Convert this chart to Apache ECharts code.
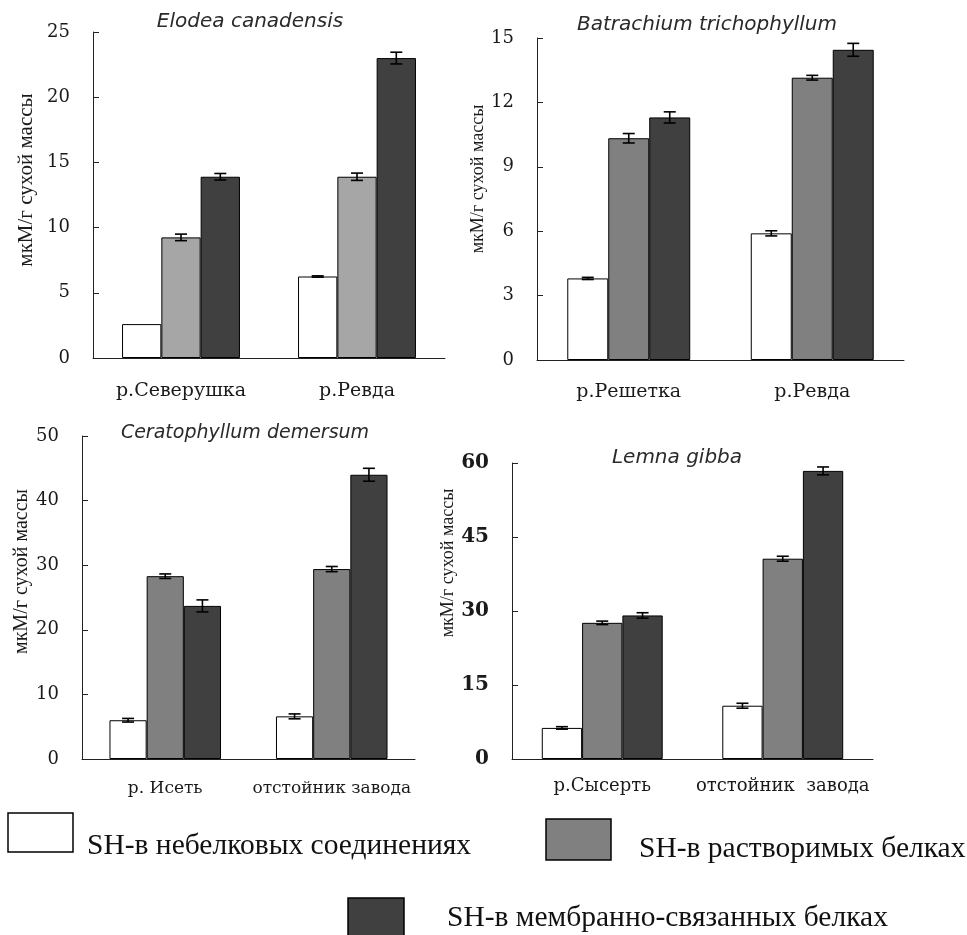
<!DOCTYPE html>
<html>
<head>
<meta charset="utf-8">
<title>SH-группы у водных растений</title>
<script src="https://cdn.jsdelivr.net/npm/echarts@6/dist/echarts.min.js"></script>
<style>
  html, body { margin: 0; padding: 0; background: #fff; }
  #chart { width: 967px; height: 935px; }
</style>
</head>
<body>
<div id="chart"></div>
<script>
// Fraction names (legend)
const seriesNames = [
  'SH-в небелковых соединениях',
  'SH-в растворимых белках',
  'SH-в мембранно-связанных белках'
];
const axisTitle = 'мкМ/г сухой массы';

// Elodea canadensis
const elodeaCats = ['р.Северушка', 'р.Ревда'];
const elodeaNonProtein = [2.6, 6.25];
const elodeaNonProteinErr = [0, 0.05];
const elodeaSoluble = [9.25, 13.9];
const elodeaSolubleErr = [0.25, 0.28];
const elodeaMembrane = [13.9, 23.0];
const elodeaMembraneErr = [0.25, 0.45];

// Batrachium trichophyllum
const batrCats = ['р.Решетка', 'р.Ревда'];
const batrNonProtein = [3.8, 5.9];
const batrNonProteinErr = [0.05, 0.12];
const batrSoluble = [10.33, 13.15];
const batrSolubleErr = [0.22, 0.11];
const batrMembrane = [11.3, 14.45];
const batrMembraneErr = [0.26, 0.3];

// Ceratophyllum demersum
const ceratCats = ['р. Исеть', 'отстойник завода'];
const ceratNonProtein = [6.0, 6.6];
const ceratNonProteinErr = [0.28, 0.38];
const ceratSoluble = [28.3, 29.4];
const ceratSolubleErr = [0.35, 0.4];
const ceratMembrane = [23.7, 44.0];
const ceratMembraneErr = [0.93, 1.0];

// Lemna gibba
const lemnaCats = ['р.Сысерть', 'отстойник  завода'];
const lemnaNonProtein = [6.3, 10.8];
const lemnaNonProteinErr = [0.25, 0.5];
const lemnaSoluble = [27.6, 40.6];
const lemnaSolubleErr = [0.35, 0.5];
const lemnaMembrane = [29.1, 58.4];
const lemnaMembraneErr = [0.55, 0.8];

// Axis scales
const yMax = [25, 15, 50, 60];
const yStep = [5, 3, 10, 15];

const panels = [
  { title: 'Elodea canadensis', cats: elodeaCats,
    vals: [elodeaNonProtein, elodeaSoluble, elodeaMembrane],
    errs: [elodeaNonProteinErr, elodeaSolubleErr, elodeaMembraneErr] },
  { title: 'Batrachium trichophyllum', cats: batrCats,
    vals: [batrNonProtein, batrSoluble, batrMembrane],
    errs: [batrNonProteinErr, batrSolubleErr, batrMembraneErr] },
  { title: 'Ceratophyllum demersum', cats: ceratCats,
    vals: [ceratNonProtein, ceratSoluble, ceratMembrane],
    errs: [ceratNonProteinErr, ceratSolubleErr, ceratMembraneErr] },
  { title: 'Lemna gibba', cats: lemnaCats,
    vals: [lemnaNonProtein, lemnaSoluble, lemnaMembrane],
    errs: [lemnaNonProteinErr, lemnaSolubleErr, lemnaMembraneErr] }
];

// Layout of the four plots
const grids = [
  { left: 93, top: 32, width: 352, height: 326 },
  { left: 537, top: 38, width: 367, height: 322 },
  { left: 82, top: 436, width: 333, height: 323 },
  { left: 512, top: 463, width: 361, height: 296 }
];
const titlePos = [[250, 22], [707, 25], [245, 433], [677, 458]];
const titleSizes = [20, 20, 19, 20];
const nameSizes = [21, 18, 20, 18];
const nameGaps = [56, 38, 43, 48];
const namePads = [30, 40, 52, 96];
const tickSizes = [18, 18, 18, 20];
const tickWeights = ['normal', 'normal', 'normal', 'bold'];
const xLabelSizes = [19, 19, 17, 18];
const xLabelMargins = [24, 23, 21, 18];
const fills = [
  ['#ffffff', '#a6a6a6', '#404040'],
  ['#ffffff', '#808080', '#404040'],
  ['#ffffff', '#808080', '#404040'],
  ['#ffffff', '#808080', '#404040']
];
const legendFills = ['#ffffff', '#808080', '#404040'];
const CAT_GAP = 0.33;

const serif = '"Liberation Serif", "Times New Roman", serif';
const wideSerif = '"DejaVu Serif", "Liberation Serif", serif';

function errorRenderer(slot) {
  return function (params, api) {
    const e = api.value(2);
    if (!e) return null;
    const v = api.value(1);
    const hi = api.coord([api.value(0), v + e]);
    const lo = api.coord([api.value(0), v - e]);
    const band = api.size([1, 0])[0];
    const bw = band * (1 - CAT_GAP) / 3;
    const cx = hi[0] + (slot - 1) * bw;
    const hw = 6;
    const st = { stroke: '#000', lineWidth: 1.6 };
    return {
      type: 'group',
      children: [
        { type: 'line', shape: { x1: cx, y1: hi[1], x2: cx, y2: lo[1] }, style: st },
        { type: 'line', shape: { x1: cx - hw, y1: hi[1], x2: cx + hw, y2: hi[1] }, style: st },
        { type: 'line', shape: { x1: cx - hw, y1: lo[1], x2: cx + hw, y2: lo[1] }, style: st }
      ]
    };
  };
}

const xAxes = [], yAxes = [], series = [], graphics = [];
panels.forEach(function (p, k) {
  xAxes.push({
    type: 'category', gridIndex: k, data: p.cats,
    axisLine: { lineStyle: { color: '#222', width: 1 } },
    axisTick: { inside: true, length: 6, lineStyle: { color: '#222' } },
    axisLabel: { interval: 0, fontFamily: wideSerif, fontSize: xLabelSizes[k], color: '#1a1a1a', margin: xLabelMargins[k] },
    splitLine: { show: false }
  });
  yAxes.push({
    type: 'value', gridIndex: k, min: 0, max: yMax[k], interval: yStep[k],
    name: axisTitle, nameLocation: 'middle', nameGap: nameGaps[k],
    nameTextStyle: { fontFamily: serif, fontSize: nameSizes[k], color: '#1a1a1a', padding: [0, 0, 0, namePads[k]] },
    axisLine: { show: true, lineStyle: { color: '#222', width: 1 } },
    axisTick: { show: true, inside: true, length: 6, lineStyle: { color: '#222' } },
    axisLabel: { fontFamily: wideSerif, fontSize: tickSizes[k], fontWeight: tickWeights[k], color: '#1a1a1a', margin: 23 },
    splitLine: { show: false }
  });
  for (let i = 0; i < 3; i++) {
    series.push({
      type: 'bar', name: seriesNames[i], xAxisIndex: k, yAxisIndex: k,
      data: p.vals[i], barGap: '0%', barCategoryGap: (CAT_GAP * 100) + '%',
      itemStyle: { color: fills[k][i], borderColor: '#000', borderWidth: 1 },
      emphasis: { disabled: true }, z: 2
    });
  }
  for (let i = 0; i < 3; i++) {
    series.push({
      type: 'custom', xAxisIndex: k, yAxisIndex: k,
      data: p.cats.map(function (c, j) { return [j, p.vals[i][j], p.errs[i][j]]; }),
      encode: { x: 0, y: 1 },
      renderItem: errorRenderer(i), z: 5, silent: true
    });
  }
  graphics.push({
    type: 'text', x: titlePos[k][0], y: titlePos[k][1],
    style: {
      text: p.title, textAlign: 'center', textVerticalAlign: 'middle',
      font: 'italic ' + titleSizes[k] + 'px "DejaVu Sans", Verdana, sans-serif', fill: '#2a2a2a'
    }
  });
});

// Key: swatch boxes and their captions
const keyBoxes = [
  { x: 8, y: 813, w: 65, h: 39 },
  { x: 546, y: 819, w: 65, h: 41 },
  { x: 348, y: 898, w: 56, h: 42 }
];
const keyText = [[87, 846], [639, 849], [447, 918]];
keyBoxes.forEach(function (b, i) {
  graphics.push({
    type: 'rect', shape: { x: b.x, y: b.y, width: b.w, height: b.h },
    style: { fill: legendFills[i], stroke: '#000', lineWidth: 1.5 }
  });
  graphics.push({
    type: 'text', x: keyText[i][0], y: keyText[i][1],
    style: {
      text: seriesNames[i], textAlign: 'left', textVerticalAlign: 'middle',
      font: '29.5px "Liberation Serif", "Times New Roman", serif', fill: '#111'
    }
  });
});

const chart = echarts.init(document.getElementById('chart'), null, { renderer: 'canvas' });
chart.setOption({
  backgroundColor: '#ffffff',
  animation: false,
  grid: grids,
  xAxis: xAxes,
  yAxis: yAxes,
  series: series,
  graphic: graphics
});
</script>
</body>
</html>
